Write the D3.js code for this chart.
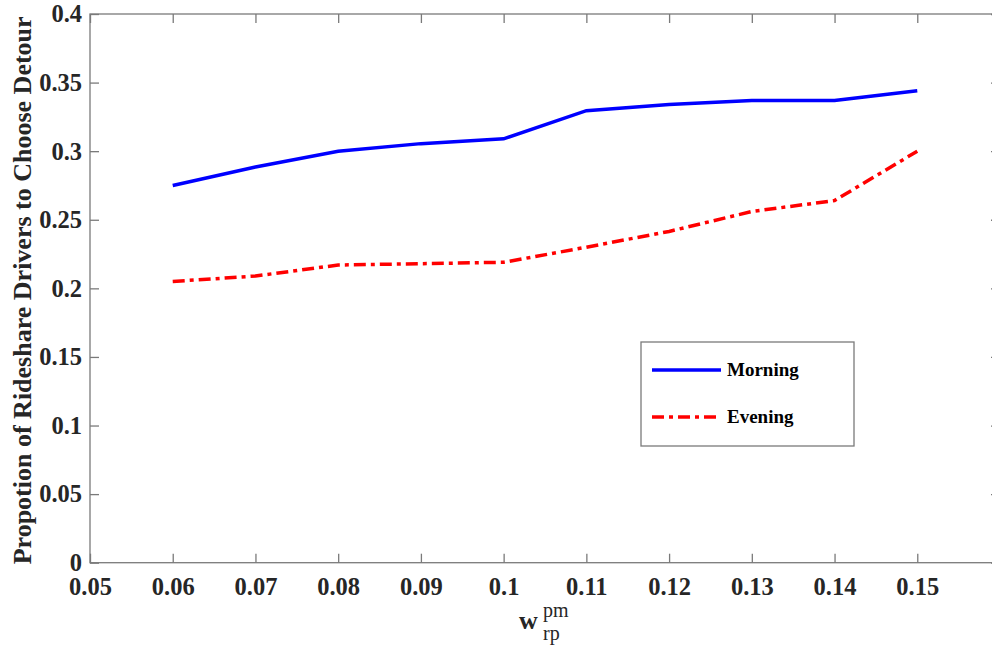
<!DOCTYPE html>
<html><head><meta charset="utf-8">
<script src="https://cdn.jsdelivr.net/npm/d3@7"></script>
<style>
html,body{margin:0;padding:0;background:#fff;}
svg{display:block;}
text{font-family:"Liberation Serif","Times New Roman",serif;}
</style></head>
<body>
<svg id="chart" width="992" height="648"></svg>
<script>
const xValues = [0.06,0.07,0.08,0.09,0.10,0.11,0.12,0.13,0.14,0.15];
const morning = [0.275,0.2885,0.300,0.3055,0.309,0.3295,0.334,0.337,0.337,0.344];
const evening = [0.205,0.209,0.217,0.218,0.219,0.230,0.2415,0.256,0.264,0.300];
const xTicks = [0.05,0.06,0.07,0.08,0.09,0.10,0.11,0.12,0.13,0.14,0.15];
const xTickLabels = ["0.05","0.06","0.07","0.08","0.09","0.1","0.11","0.12","0.13","0.14","0.15"];
const yTicks = [0,0.05,0.1,0.15,0.2,0.25,0.3,0.35,0.4];
const yTickLabels = ["0","0.05","0.1","0.15","0.2","0.25","0.3","0.35","0.4"];
const seriesNames = ["Morning","Evening"];

const svg = d3.select("#chart");
const L=90, R=1000, T=14, B=562.7;
const x = d3.scaleLinear().domain([0.05,0.16]).range([L,R]);
const y = d3.scaleLinear().domain([0,0.4]).range([B,T]);
const axisColor = "#7a7a7a", textColor="#262626", tickLen=9;
const serif = '"Liberation Serif","Times New Roman",serif';

svg.append("rect").attr("x",L).attr("y",T).attr("width",R-L).attr("height",B-T)
  .attr("fill","none").attr("stroke",axisColor).attr("stroke-width",1.3);

const gxb = svg.append("g").attr("transform",`translate(0,${B})`)
  .call(d3.axisBottom(x).tickValues(xTicks).tickSize(-tickLen).tickPadding(15)
     .tickFormat((d,i)=>xTickLabels[i]));
const gxt = svg.append("g").attr("transform",`translate(0,${T})`)
  .call(d3.axisTop(x).tickValues(xTicks).tickSize(-tickLen).tickFormat(""));
const gyl = svg.append("g").attr("transform",`translate(${L},0)`)
  .call(d3.axisLeft(y).tickValues(yTicks).tickSize(-tickLen).tickPadding(8)
     .tickFormat((d,i)=>yTickLabels[i]));
const gyr = svg.append("g").attr("transform",`translate(${R},0)`)
  .call(d3.axisRight(y).tickValues(yTicks).tickSize(-tickLen).tickFormat(""));
[gxb,gxt,gyl,gyr].forEach(g=>{
  g.attr("font-family",serif);
  g.select(".domain").remove();
  g.selectAll(".tick line").attr("stroke",axisColor).attr("stroke-width",1.3);
  g.selectAll(".tick text").attr("fill",textColor)
    .style("font-family",serif)
    .style("font-weight","bold").style("font-size","24.5px");
});

const line = d3.line().x((d,i)=>x(xValues[i])).y(d=>y(d));
svg.append("path").datum(morning).attr("d",line).attr("fill","none")
  .attr("stroke","#0000ff").attr("stroke-width",3.5);
svg.append("path").datum(evening).attr("d",line).attr("fill","none")
  .attr("stroke","#ff0000").attr("stroke-width",3.5).attr("stroke-dasharray","12,5,4,5");

const lg = svg.append("g");
lg.append("rect").attr("x",641).attr("y",342).attr("width",213).attr("height",104)
  .attr("fill","#fff").attr("stroke",axisColor).attr("stroke-width",1.3);
const legY=[370,417];
const legStyles=[{c:"#0000ff",d:null},{c:"#ff0000",d:"12,5,4,5"}];
seriesNames.forEach((n,i)=>{
  const l=lg.append("line").attr("x1",652).attr("x2",721).attr("y1",legY[i]).attr("y2",legY[i])
    .attr("stroke",legStyles[i].c).attr("stroke-width",3.5);
  if(legStyles[i].d) l.attr("stroke-dasharray",legStyles[i].d);
  lg.append("text").attr("x",727).attr("y",legY[i]+6).text(n)
    .attr("fill","#000").style("font-weight","bold").style("font-size","19px");
});

svg.append("text").attr("transform",`translate(31,${(T+B)/2+2}) rotate(-90)`)
  .attr("text-anchor","middle").attr("fill",textColor)
  .style("font-weight","bold").style("font-size","26px")
  .text("Propotion of Rideshare Drivers to Choose Detour");
const xt = svg.append("g");
xt.append("text").attr("x",519).attr("y",629).attr("fill",textColor)
  .style("font-weight","bold").style("font-size","26px").text("w");
xt.append("text").attr("x",543).attr("y",617).attr("fill",textColor)
  .style("font-size","20px").text("pm");
xt.append("text").attr("x",543).attr("y",640).attr("fill",textColor)
  .style("font-size","20px").text("rp");
</script>
</body></html>
